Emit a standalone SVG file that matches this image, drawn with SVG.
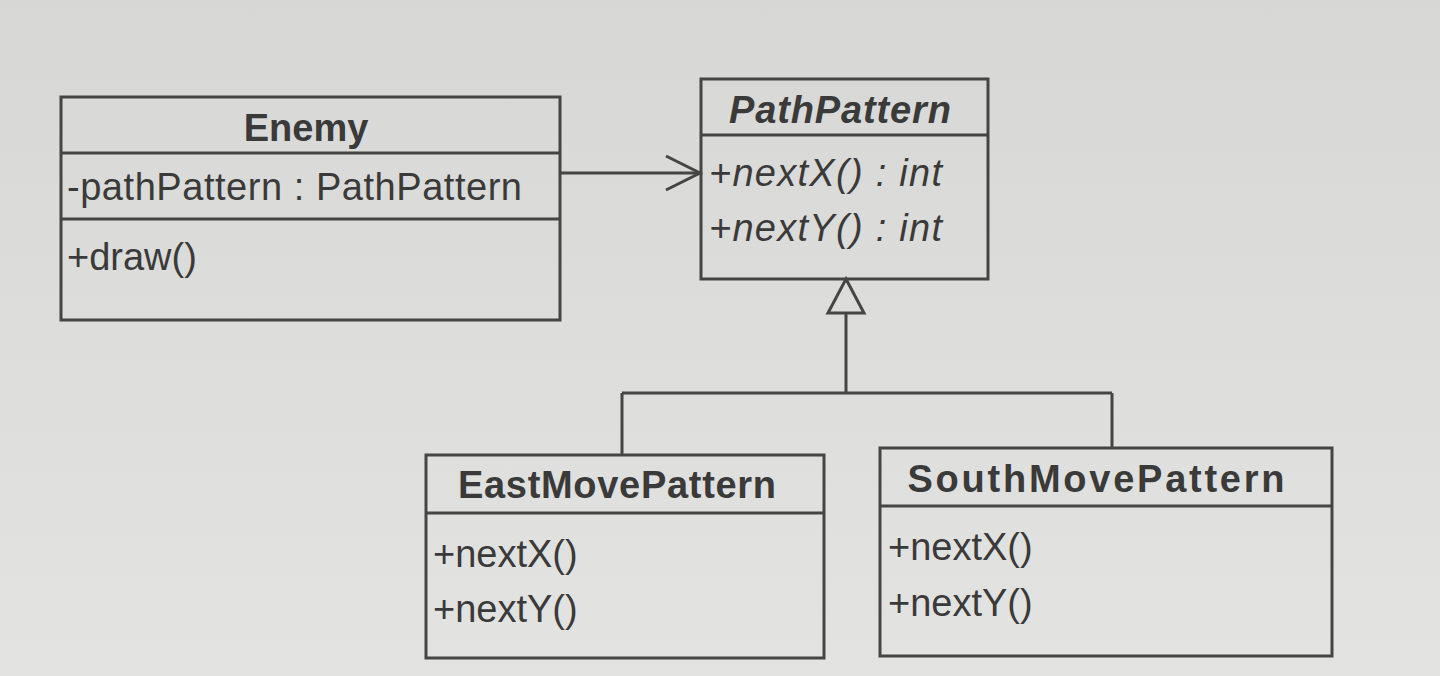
<svg xmlns="http://www.w3.org/2000/svg" width="1440" height="676" viewBox="0 0 1440 676">
<style>
.box{fill:none;stroke:#454545;stroke-width:3}
.ln{fill:none;stroke:#454545;stroke-width:3}
text{font-family:"Liberation Sans",Arial,sans-serif;font-size:38px;fill:#3a3a3a}
.t{font-weight:bold;text-anchor:middle}
.i{font-style:italic}
</style>
<defs>
<linearGradient id="bg" x1="0" y1="0" x2="0" y2="1">
<stop offset="0" stop-color="#d7d7d5"/>
<stop offset="1" stop-color="#e3e3e1"/>
</linearGradient>
</defs>
<rect width="1440" height="676" fill="url(#bg)"/>
<g id="connectors">
<path class="ln" d="M560 173 H699"/>
<path class="ln" d="M666 156 L700 173 L666 190"/>
<path class="ln" d="M846 279 L864 313 L828 313 Z"/>
<path class="ln" d="M846 313 V393 M622 393 H1112 M622 393 V455 M1112 393 V448"/>
</g>
<g id="Enemy">
<rect class="box" x="61" y="97" width="499" height="223"/>
<path class="ln" d="M61 153 H560 M61 219 H560"/>
<text class="t" x="306" y="141">Enemy</text>
<text x="67" y="200" textLength="455">-pathPattern : PathPattern</text>
<text x="67" y="270">+draw()</text>
</g>
<g id="PathPattern">
<rect class="box" x="701" y="79" width="287" height="200"/>
<path class="ln" d="M701 135 H988"/>
<text class="t i" x="840" y="123" textLength="222">PathPattern</text>
<text class="i" x="709" y="186" textLength="233">+nextX() : int</text>
<text class="i" x="709" y="241" textLength="233">+nextY() : int</text>
</g>
<g id="EastMovePattern">
<rect class="box" x="426" y="455" width="398" height="203"/>
<path class="ln" d="M426 513 H824"/>
<text class="t" x="617" y="498" textLength="318">EastMovePattern</text>
<text x="433" y="567">+nextX()</text>
<text x="433" y="622">+nextY()</text>
</g>
<g id="SouthMovePattern">
<rect class="box" x="880" y="448" width="452" height="208"/>
<path class="ln" d="M880 506 H1332"/>
<text class="t" x="1096" y="492" textLength="377">SouthMovePattern</text>
<text x="888" y="560">+nextX()</text>
<text x="888" y="616">+nextY()</text>
</g>
</svg>
